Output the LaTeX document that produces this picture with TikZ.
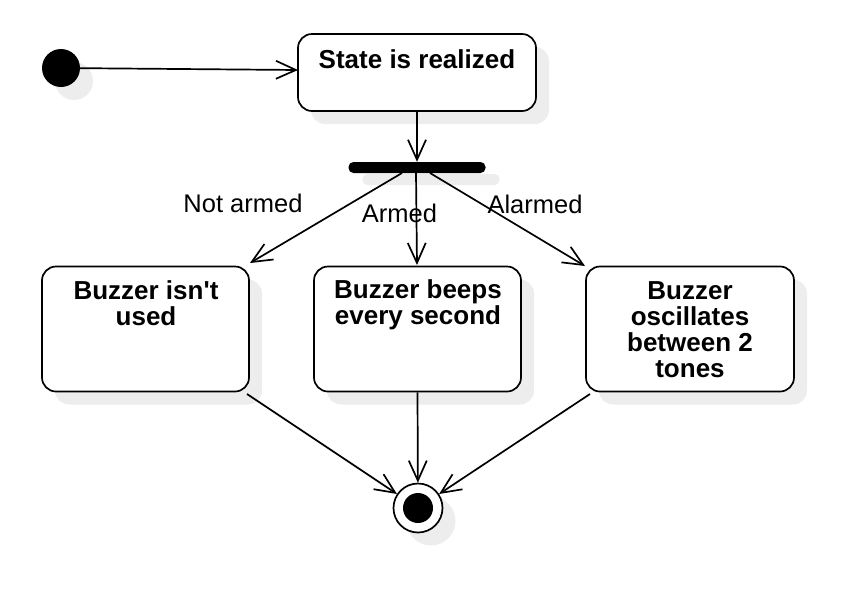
\documentclass[tikz,border=0pt]{standalone}
\usepackage{fontspec}
\setmainfont{Liberation Sans}
\usetikzlibrary{arrows.meta,shadows}
\definecolor{shadowgray}{HTML}{EDEDED}
\tikzset{
  every picture/.style={x=1pt,y=-1pt},
  shad/.style={drop shadow={shadow xshift=13pt,shadow yshift=-13pt,fill=shadowgray,opacity=1}},
  statebox/.style={draw=black,line width=1.7pt,rounded corners=14pt,fill=white,shad,inner sep=0pt},
  boxtext/.style={font=\fontsize{26}{26}\selectfont\bfseries,align=center,inner sep=0pt,anchor=north},
  lbl/.style={font=\fontsize{25.5}{26}\selectfont,inner sep=0pt,anchor=base},
  conn/.style={line width=1.7pt,-{Straight Barb[length=20pt,width=18pt,line width=1.7pt]}},
}
\begin{document}
\begin{tikzpicture}
\useasboundingbox (0,0) rectangle (852,598);
% initial node
\node[circle,fill=black,minimum size=38pt,inner sep=0pt,shad] (init) at (61,68) {};
% state is realized
\node[statebox,minimum width=238pt,minimum height=77pt] (st) at (417,72.5) {};
\node[boxtext] (stt) at (417,49) {State is realized};
% fork bar
\node[fill=black,rounded corners=5pt,minimum width=137pt,minimum height=11pt,inner sep=0pt,
      drop shadow={shadow xshift=14pt,shadow yshift=-12pt,fill=shadowgray,opacity=1}] (bar) at (417,167.5) {};
% boxes
\node[statebox,minimum width=207pt,minimum height=125pt] (b1) at (145.5,329) {};
\node[boxtext] (b1t) at (146,280) {Buzzer isn\textquotesingle t\\used};
\node[statebox,minimum width=207pt,minimum height=125pt] (b2) at (417.5,329) {};
\node[boxtext] (b2t) at (418,279) {Buzzer beeps\\every second};
\node[statebox,minimum width=208pt,minimum height=125pt] (b3) at (690,329) {};
\node[boxtext] (b3t) at (690,281) {Buzzer\\oscillates\\between 2\\tones};
% final node
\node[circle,draw=black,line width=1.7pt,fill=white,minimum size=49pt,inner sep=0pt,shad] (fin) at (418,508) {};
\node[circle,fill=black,minimum size=30pt,inner sep=0pt] (finin) at (fin.center) {};
% connector points
\coordinate (s1) at (402,173);
\coordinate (s2) at (416,173);
\coordinate (s3) at (430,173);
\coordinate (t1) at (250,263);
\coordinate (t2) at (417,265);
\coordinate (t3) at (585,266);
\coordinate (stin) at (298,70);
\coordinate (u1) at (247,394);
\coordinate (u3) at (590,394);
% connectors
\draw[conn] (init) -- (stin);
\draw[conn] (st.south) -- (bar.north);
\draw[conn] (s1) -- (t1);
\draw[conn] (s2) -- (t2);
\draw[conn] (s3) -- (t3);
\draw[conn] (u1) -- (fin);
\draw[conn] (b2.south) -- (fin);
\draw[conn] (u3) -- (fin);
% labels
\node[lbl] (l1) at (243,212) {Not armed};
\node[lbl] (l2) at (399.5,222) {Armed};
\node[lbl] (l3) at (535,213) {Alarmed};
\end{tikzpicture}
\end{document}
